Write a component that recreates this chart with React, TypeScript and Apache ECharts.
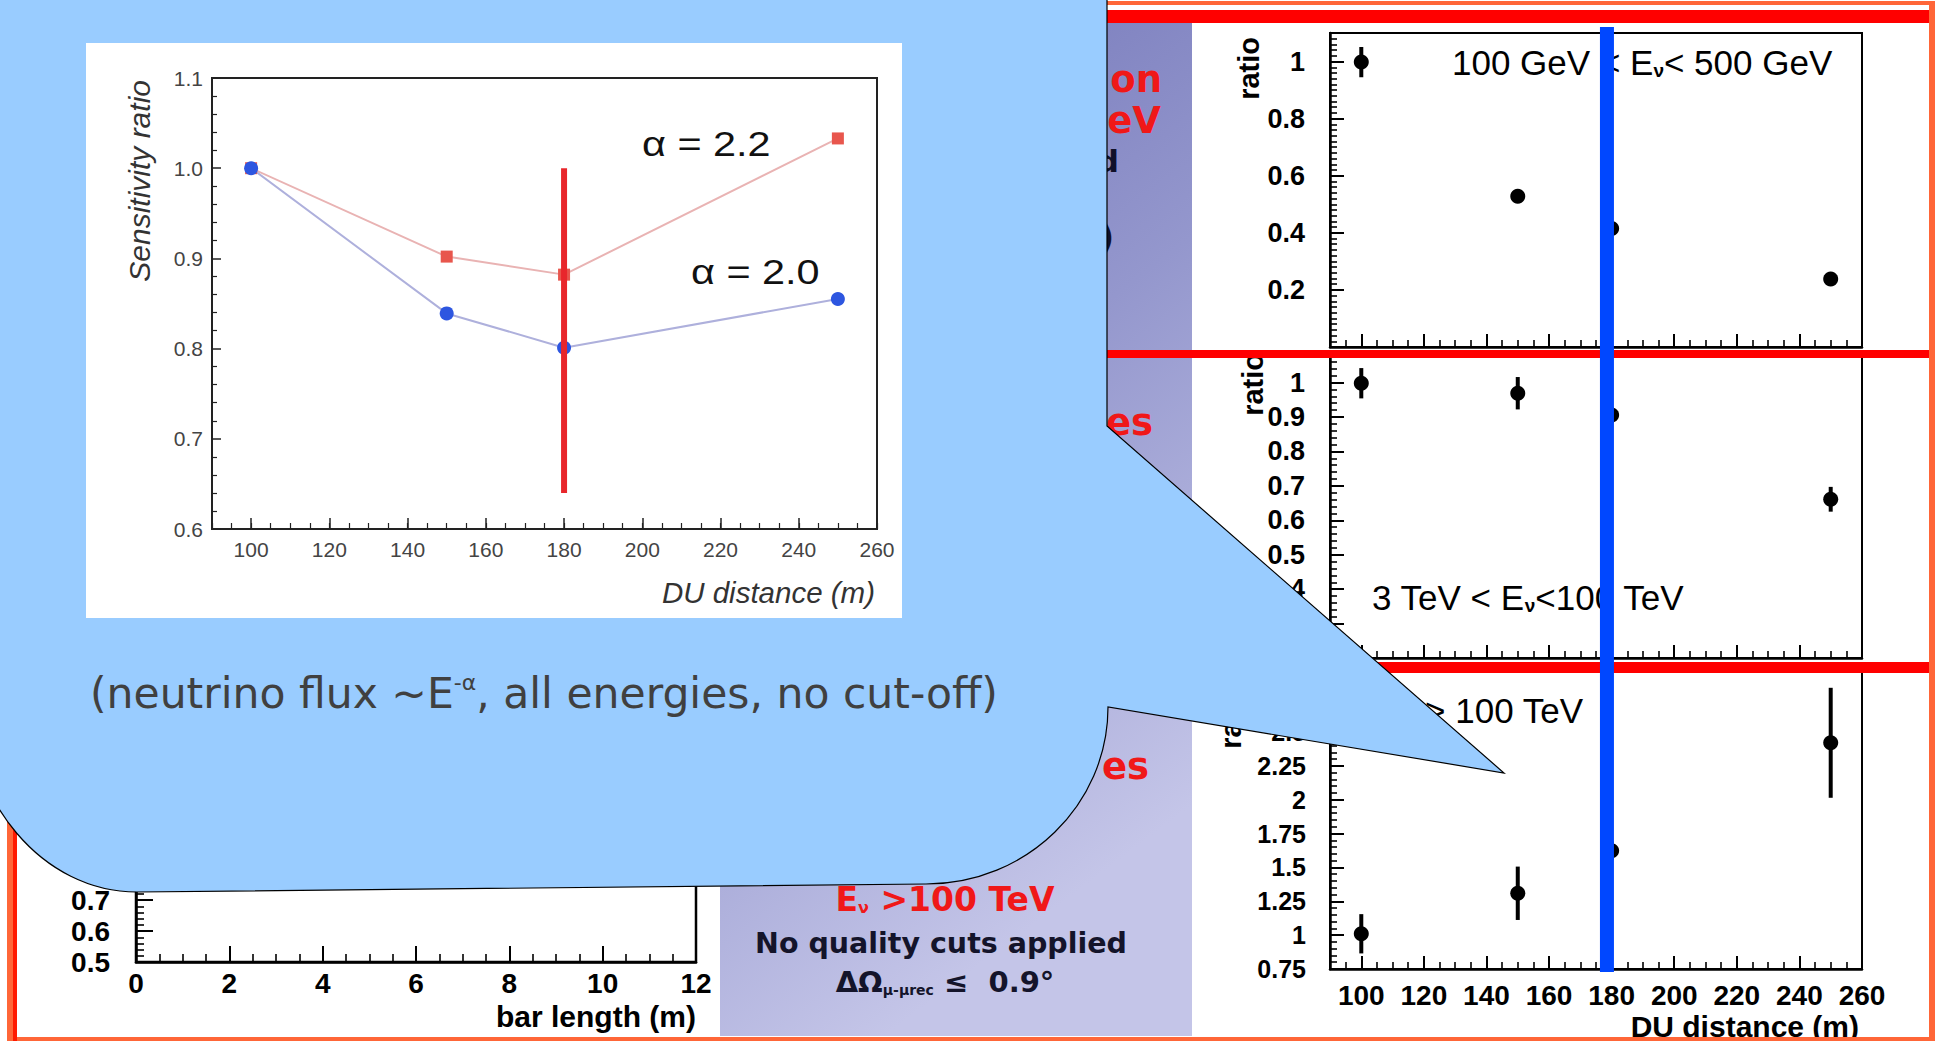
import React, { useEffect, useRef } from 'react';
import * as echarts from 'echarts';

// ---------------- data ----------------
// inset: sensitivity ratio vs DU distance
const DU_DISTANCE = [100, 150, 180, 250];
const SENS_ALPHA_22 = [1.0, 0.902, 0.882, 1.033];
const SENS_ALPHA_20 = [1.0, 0.839, 0.801, 0.855];
const CUT_DISTANCE = 180;
const CUT_SPAN = [0.64, 1.0];
const DU_TICKS = [100, 120, 140, 160, 180, 200, 220, 240, 260];
const SENS_TICKS = [0.6, 0.7, 0.8, 0.9, 1.0, 1.1];

// background ROOT plots: ratio vs DU distance, three energy bands
const RATIO_LOW = [0.998, 0.528, 0.415, 0.238];
const RATIO_LOW_ERR = [0.053, 0.012, 0.015, 0.012];
const RATIO_MID = [0.998, 0.969, 0.906, 0.661];
const RATIO_MID_ERR = [0.044, 0.047, 0.023, 0.036];
const RATIO_HIGH = [1.01, 1.309, 1.623, 2.42];
const RATIO_HIGH_ERR = [0.145, 0.197, 0.068, 0.406];
const RATIO_LOW_TICKS = [0.2, 0.4, 0.6, 0.8, 1];
const RATIO_MID_TICKS = [0.2, 0.3, 0.4, 0.5, 0.6, 0.7, 0.8, 0.9, 1];
const RATIO_HIGH_TICKS = [0.75, 1, 1.25, 1.5, 1.75, 2, 2.25, 2.5, 2.75];
const BLUE_MARK_DISTANCE = 178.5;

// bottom-left plot (only its axes are visible)
const BAR_LENGTH_TICKS = [0, 2, 4, 6, 8, 10, 12];
const BAR_RATIO_TICKS = [0.5, 0.6, 0.7, 0.8, 0.9, 1.0, 1.1, 1.2];

// ---------------- shapes ----------------
const BUBBLE_PATH =
  'M -33 -20 L 1107 -20 L 1107 426 L 1504 773 L 1108 707 C 1108 805 1026.5 884 926 884 L 137 892 C 43 892 -33 802 -33 692 Z';
echarts.graphic.registerShape('calloutBubble', echarts.graphic.extendPath(BUBBLE_PATH, {}));

const ROOT_FONT = '"Liberation Sans", Arial, Helvetica, sans-serif';
const DEJAVU = '"DejaVu Sans", sans-serif';

const pairs = (xs: number[], ys: number[]) => xs.map((x, i) => [x, ys[i]]);
const triples = (xs: number[], ys: number[], es: number[]) => xs.map((x, i) => [x, ys[i], es[i]]);
const fmtNum = (v: number) => String(Math.round(v * 100) / 100);

function xMajor(gridIndex: number, c: any) {
  return {
    type: 'value', gridIndex, min: 90, max: 260, position: 'bottom', z: c.z,
    axisLine: { show: true, onZero: false, lineStyle: { color: c.color, width: c.lineWidth } },
    axisTick: { show: true, inside: true, length: c.tickLen, customValues: DU_TICKS, lineStyle: { color: c.color, width: c.tickWidth } },
    axisLabel: c.label ? { show: true, customValues: DU_TICKS, ...c.label } : { show: false },
    splitLine: { show: false },
  };
}
function xMinor(gridIndex: number, c: any) {
  return {
    type: 'value', gridIndex, min: 90, max: 260, interval: 5, position: 'bottom', z: c.z,
    axisLine: { show: false, onZero: false },
    axisTick: { show: true, inside: true, length: c.minorLen, lineStyle: { color: c.color, width: c.minorWidth } },
    axisLabel: { show: false },
    splitLine: { show: false },
  };
}
function yAxisCfg(gridIndex: number, min: number, max: number, interval: number, minorSplit: number, labels: number[], c: any) {
  return {
    type: 'value', gridIndex, min, max, interval, z: c.z,
    axisLine: { show: true, onZero: false, lineStyle: { color: c.color, width: c.lineWidth } },
    axisTick: { show: true, inside: true, length: c.tickLen, lineStyle: { color: c.color, width: c.tickWidth } },
    minorTick: { show: true, splitNumber: minorSplit, length: c.minorLen, lineStyle: { color: c.color, width: c.minorWidth } },
    splitLine: { show: false },
    minorSplitLine: { show: false },
    axisLabel: { show: true, customValues: labels, formatter: c.fmt, ...c.label },
  };
}

const INSET = { z: 12, color: '#222', lineWidth: 2, tickLen: 11, tickWidth: 1.5, minorLen: 6, minorWidth: 1.2 };
const INSET_LABEL = { margin: 10, fontSize: 21, color: '#444', fontFamily: ROOT_FONT };
const ROOTAX = { z: 2, color: '#000', lineWidth: 2.5, tickLen: 14, tickWidth: 2, minorLen: 7, minorWidth: 1.6 };
const rootLabel = (size: number, margin: number) => ({ margin, fontSize: size, color: '#000', fontFamily: ROOT_FONT, fontWeight: 'bold' });

function errorBarSeries(xAxisIndex: number, yAxisIndex: number, data: number[][]) {
  return {
    type: 'custom', xAxisIndex, yAxisIndex, data, z: 2,
    encode: { x: 0, y: 1 },
    renderItem: (_p: any, api: any) => {
      const x = api.value(0), y = api.value(1), e = api.value(2);
      const c = api.coord([x, y]);
      const hi = api.coord([x, y + e]);
      const lo = api.coord([x, y - e]);
      return {
        type: 'group',
        children: [
          { type: 'line', shape: { x1: c[0], y1: hi[1], x2: c[0], y2: lo[1] }, style: { stroke: '#000', lineWidth: 4 } },
          { type: 'circle', shape: { cx: c[0], cy: c[1], r: 7.5 }, style: { fill: '#000' } },
        ],
      };
    },
  };
}

function txt(id: string, x: number, y: number, text: string, st: any, z: number, rotation = 0, scaleX = 1) {
  const align = st.align || 'left';
  const va = st.verticalAlign || 'middle';
  return {
    id, type: 'text', x, y, z, rotation, scaleX,
    style: { text, x: 0, y: 0, ...st, align, textAlign: align, verticalAlign: va, textVerticalAlign: va },
  };
}

function rect(id: string, x: number, y: number, w: number, h: number, fill: any, z: number) {
  return { id, type: 'rect', z, shape: { x, y, width: w, height: h }, style: { fill } };
}

function buildOption(): any {
  const redBold = { fontFamily: DEJAVU, fontWeight: 'bold', fontSize: 37, fill: '#f01818' };
  const annot = { fontFamily: ROOT_FONT, fontSize: 35, fill: '#000', color: '#000' };
  const annotSub = { fontFamily: ROOT_FONT, fontSize: 19, fontWeight: 'bold', fill: '#000', color: '#000', verticalAlign: 'bottom' };
  const rootTitle = { fontFamily: ROOT_FONT, fontSize: 29, fontWeight: 'bold', fill: '#000' };

  const graphicElements: any[] = [
    // slide background pieces
    rect('purplePanel', 720, 23, 472, 1013, {
      type: 'linear', x: 0, y: 0, x2: 0.35, y2: 1,
      colorStops: [
        { offset: 0, color: '#6f72b6' },
        { offset: 0.5, color: '#9497cd' },
        { offset: 1, color: '#c4c5e8' },
      ],
    }, 1),
    rect('borderTop', 7, 1, 1928, 4, '#ff6638', 5),
    rect('borderRight', 1929, 1, 6, 1040, '#ff6638', 5),
    rect('borderBottom', 7, 1037, 1928, 4, '#ff6638', 5),
    rect('borderLeft', 7, 0, 7, 1041, '#ff6638', 5),
    rect('borderLeftRed', 13, 0, 4, 1041, '#ff1a00', 5),
    rect('bandTop', 1107, 10, 822, 13, '#ff0000', 5),
    rect('bandMid', 1107, 350, 822, 8, '#ff0000', 5),
    rect('bandLow', 1107, 662, 822, 11, '#ff0000', 5),

    // fragments of the slide text behind the callout
    txt('fragOn', 1162, 79, 'on', { ...redBold, align: 'right' }, 3),
    txt('fragEV', 1161, 120, 'eV', { ...redBold, align: 'right' }, 3),
    txt('fragD', 1119, 161, 'd', { fontFamily: DEJAVU, fontWeight: 'bold', fontSize: 31, fill: '#101028', align: 'right' }, 3),
    txt('fragParen', 1114, 237, ')', { fontFamily: DEJAVU, fontWeight: 'bold', fontSize: 33, fill: '#101028', align: 'right' }, 3),
    txt('fragEs1', 1153, 422, 'es', { ...redBold, align: 'right' }, 3),
    txt('fragEs2', 1149, 766, 'es', { ...redBold, align: 'right' }, 3),

    // purple panel texts
    txt('cutEnergy', 945, 899, '{r|E}{rs|ν}{r| >100 TeV}', {
      align: 'center',
      rich: {
        r: { fontFamily: DEJAVU, fontWeight: 'bold', fontSize: 33, fill: '#f01818', color: '#f01818' },
        rs: { fontFamily: DEJAVU, fontWeight: 'bold', fontSize: 16, fill: '#f01818', color: '#f01818', verticalAlign: 'bottom' },
      },
    }, 3),
    txt('noCuts', 941, 943, 'No quality cuts applied', {
      fontFamily: DEJAVU, fontWeight: 'bold', fontSize: 28.5, fill: '#14142a', align: 'center',
    }, 3),
    txt('angCut', 945, 982, '{m|ΔΩ}{s|μ-μrec}{m| ≤  0.9°}', {
      align: 'center',
      rich: {
        m: { fontFamily: DEJAVU, fontWeight: 'bold', fontSize: 29, fill: '#14142a', color: '#14142a' },
        s: { fontFamily: DEJAVU, fontWeight: 'bold', fontSize: 14, fill: '#14142a', color: '#14142a', verticalAlign: 'bottom' },
      },
    }, 3),

    // ROOT plot annotations and titles
    txt('lowBand', 1452, 62, '{t|100 GeV < E}{s|ν}{t|< 500 GeV}', { rich: { t: annot, s: annotSub } }, 3),
    txt('midBand', 1372, 597, '{t|3 TeV < E}{s|ν}{t|<100 TeV}', { rich: { t: annot, s: annotSub } }, 3),
    txt('highBand', 1583, 710, '{t|E}{s|ν}{t| > 100 TeV}', { align: 'right', rich: { t: annot, s: annotSub } }, 3),
    txt('ratioTop', 1249, 37, 'ratio', { ...rootTitle, align: 'right' }, 3, Math.PI / 2),
    txt('ratioMid', 1253, 353, 'ratio', { ...rootTitle, align: 'right' }, 3, Math.PI / 2),
    txt('ratioLow', 1231, 686, 'ratio', { ...rootTitle, align: 'right' }, 3, Math.PI / 2),
    txt('duTitle', 1859, 1026, 'DU distance (m)', { ...rootTitle, fontSize: 30, align: 'right' }, 3),
    txt('barTitle', 696, 1016, 'bar length (m)', { ...rootTitle, fontSize: 30, align: 'right' }, 3),

    // callout
    { id: 'bubble', type: 'calloutBubble', x: 0, y: 0, scaleX: 1, scaleY: 1, z: 10, style: { fill: '#99ccff', stroke: '#000', lineWidth: 1.2 } },
    rect('insetBox', 86, 43, 816, 575, '#ffffff', 11),
    txt('caption', 90, 693, '{a|(neutrino flux ~E}{s|-α}{a|, all energies, no cut-off)}', {
      rich: {
        a: { fontFamily: DEJAVU, fontSize: 42.5, fill: '#404040', color: '#404040' },
        s: { fontFamily: DEJAVU, fontSize: 22, fill: '#404040', color: '#404040', verticalAlign: 'top' },
      },
    }, 11),

    // inset texts
    txt('sensTitle', 139, 80, 'Sensitivity ratio', { fontFamily: ROOT_FONT, fontStyle: 'italic', fontSize: 30, fill: '#333', align: 'right' }, 14, Math.PI / 2),
    txt('insetXTitle', 875, 592, 'DU distance (m)', { fontFamily: ROOT_FONT, fontStyle: 'italic', fontSize: 29.5, fill: '#333', align: 'right' }, 14),
    txt('alpha22', 642, 143, 'α = 2.2', { fontFamily: ROOT_FONT, fontSize: 36, fill: '#111' }, 14, 0, 1.15),
    txt('alpha20', 691, 271, 'α = 2.0', { fontFamily: ROOT_FONT, fontSize: 36, fill: '#111' }, 14, 0, 1.15),
  ];

  return {
    animation: false,
    backgroundColor: '#ffffff',
    grid: [
      { left: 212, top: 78, width: 665, height: 451, show: true, borderColor: '#222', borderWidth: 2, backgroundColor: '#ffffff', z: 12, outerBoundsMode: 'none' },
      { left: 1330, top: 33, width: 532, height: 314, show: true, borderColor: '#000', borderWidth: 2, backgroundColor: 'rgba(0,0,0,0)', z: 2, outerBoundsMode: 'none' },
      { left: 1330, top: 355, width: 532, height: 303, show: true, borderColor: '#000', borderWidth: 2, backgroundColor: 'rgba(0,0,0,0)', z: 2, outerBoundsMode: 'none' },
      { left: 1330, top: 671, width: 532, height: 298, show: true, borderColor: '#000', borderWidth: 2, backgroundColor: 'rgba(0,0,0,0)', z: 2, outerBoundsMode: 'none' },
      { left: 136, top: 653, width: 560, height: 309, show: true, borderColor: '#000', borderWidth: 2.5, backgroundColor: 'rgba(0,0,0,0)', z: 2, outerBoundsMode: 'none' },
    ],
    xAxis: [
      xMajor(0, { ...INSET, label: INSET_LABEL }),
      xMinor(0, INSET),
      xMajor(1, { ...ROOTAX, tickLen: 13 }),
      xMinor(1, ROOTAX),
      xMajor(2, { ...ROOTAX, tickLen: 13 }),
      xMinor(2, ROOTAX),
      xMajor(3, { ...ROOTAX, tickLen: 13, label: rootLabel(28, 12) }),
      xMinor(3, ROOTAX),
      {
        type: 'value', gridIndex: 4, min: 0, max: 12, interval: 2, z: 2,
        axisLine: { show: true, onZero: false, lineStyle: { color: '#000', width: 2.5 } },
        axisTick: { show: true, inside: true, length: 16, lineStyle: { color: '#000', width: 2 } },
        minorTick: { show: true, splitNumber: 4, length: 8, lineStyle: { color: '#000', width: 1.6 } },
        splitLine: { show: false },
        axisLabel: { show: true, customValues: BAR_LENGTH_TICKS, ...rootLabel(28, 7), formatter: fmtNum },
      },
    ],
    yAxis: [
      yAxisCfg(0, 0.6, 1.1, 0.1, 5, SENS_TICKS, { ...INSET, tickLen: 9, minorLen: 5, fmt: (v: number) => v.toFixed(1), label: { ...INSET_LABEL, margin: 9 } }),
      yAxisCfg(1, 0, 1.1, 0.2, 10, RATIO_LOW_TICKS, { ...ROOTAX, fmt: fmtNum, label: rootLabel(27, 25) }),
      yAxisCfg(2, 0.2, 1.08, 0.1, 5, RATIO_MID_TICKS, { ...ROOTAX, fmt: fmtNum, label: rootLabel(27, 25) }),
      yAxisCfg(3, 0.75, 2.95, 0.25, 5, RATIO_HIGH_TICKS, { ...ROOTAX, fmt: fmtNum, label: rootLabel(25, 24) }),
      yAxisCfg(4, 0.5, 1.5, 0.1, 5, BAR_RATIO_TICKS, { ...ROOTAX, tickLen: 17, minorLen: 8, fmt: (v: number) => v.toFixed(1), label: rootLabel(28, 26) }),
    ],
    series: [
      {
        name: 'α = 2.2', type: 'line', xAxisIndex: 0, yAxisIndex: 0, z: 13,
        data: pairs(DU_DISTANCE, SENS_ALPHA_22),
        symbol: 'rect', symbolSize: 12,
        itemStyle: { color: '#e8564d' },
        lineStyle: { color: '#e9b3b3', width: 2 },
      },
      {
        name: 'α = 2.0', type: 'line', xAxisIndex: 0, yAxisIndex: 0, z: 13,
        data: pairs(DU_DISTANCE, SENS_ALPHA_20),
        symbol: 'circle', symbolSize: 14,
        itemStyle: { color: '#2d56e0' },
        lineStyle: { color: '#aeb0dc', width: 2 },
      },
      {
        name: 'cut', type: 'line', xAxisIndex: 0, yAxisIndex: 0, z: 14,
        data: CUT_SPAN.map((v) => [CUT_DISTANCE, v]),
        symbol: 'none',
        lineStyle: { color: '#e8262b', width: 6 },
      },
      errorBarSeries(2, 1, triples(DU_DISTANCE, RATIO_LOW, RATIO_LOW_ERR)),
      errorBarSeries(4, 2, triples(DU_DISTANCE, RATIO_MID, RATIO_MID_ERR)),
      errorBarSeries(6, 3, triples(DU_DISTANCE, RATIO_HIGH, RATIO_HIGH_ERR)),
    ],
    graphic: { elements: graphicElements },
  };
}

export default function App() {
  const ref = useRef<HTMLDivElement>(null);
  useEffect(() => {
    if (!ref.current) return;
    const chart = echarts.init(ref.current, null, { renderer: 'svg' });
    chart.setOption(buildOption());
    const px = chart.convertToPixel({ xAxisIndex: 2 }, BLUE_MARK_DISTANCE) as unknown as number;
    const top = (chart.convertToPixel({ yAxisIndex: 1 }, 1.1) as unknown as number) - 6;
    const bottom = (chart.convertToPixel({ yAxisIndex: 3 }, 0.75) as unknown as number) + 3;
    chart.setOption({
      graphic: {
        elements: [
          { id: 'blueMark', type: 'rect', z: 6, shape: { x: px - 7, y: top, width: 14, height: bottom - top }, style: { fill: '#0047ff' } },
        ],
      },
    });
    return () => chart.dispose();
  }, []);
  return <div ref={ref} style={{ position: 'fixed', left: 0, top: 0, width: 1937, height: 1041 }} />;
}
